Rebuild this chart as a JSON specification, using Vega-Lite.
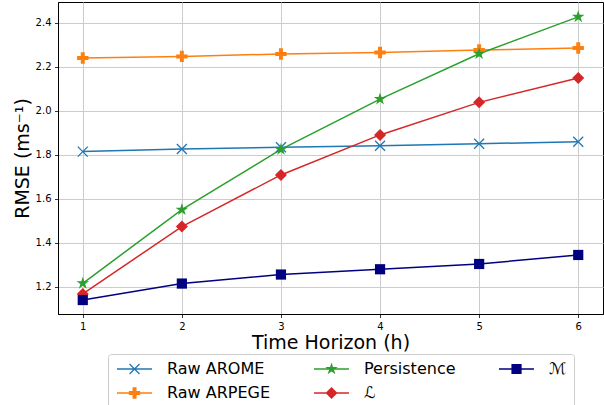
{
  "$schema": "https://vega.github.io/schema/vega-lite/v6.json",
  "width": 545,
  "height": 312,
  "autosize": "none",
  "padding": {"left": 58, "top": 2, "right": 1, "bottom": 91},
  "background": "white",
  "config": {
    "font": "DejaVu Sans",
    "view": {"stroke": "black", "strokeWidth": 1},
    "axis": {
      "domainColor": "black", "domainWidth": 1,
      "tickColor": "black", "tickSize": 3.5, "tickWidth": 0.8,
      "labelFontSize": 10, "labelColor": "black", "labelFont": "DejaVu Sans",
      "titleColor": "black", "titleFontSize": 19, "titleFontWeight": "normal", "titleFont": "DejaVu Sans",
      "gridColor": "#cccccc", "gridWidth": 1, "labelPadding": 3.5
    }
  },
  "data": {"values": [
    {"h": 1, "series": "Raw AROME", "rmse": 1.814},
    {"h": 2, "series": "Raw AROME", "rmse": 1.826},
    {"h": 3, "series": "Raw AROME", "rmse": 1.834},
    {"h": 4, "series": "Raw AROME", "rmse": 1.841},
    {"h": 5, "series": "Raw AROME", "rmse": 1.850},
    {"h": 6, "series": "Raw AROME", "rmse": 1.859},
    {"h": 1, "series": "Raw ARPEGE", "rmse": 2.240},
    {"h": 2, "series": "Raw ARPEGE", "rmse": 2.247},
    {"h": 3, "series": "Raw ARPEGE", "rmse": 2.258},
    {"h": 4, "series": "Raw ARPEGE", "rmse": 2.265},
    {"h": 5, "series": "Raw ARPEGE", "rmse": 2.276},
    {"h": 6, "series": "Raw ARPEGE", "rmse": 2.285},
    {"h": 1, "series": "Persistence", "rmse": 1.215},
    {"h": 2, "series": "Persistence", "rmse": 1.550},
    {"h": 3, "series": "Persistence", "rmse": 1.824},
    {"h": 4, "series": "Persistence", "rmse": 2.053},
    {"h": 5, "series": "Persistence", "rmse": 2.259},
    {"h": 6, "series": "Persistence", "rmse": 2.427},
    {"h": 1, "series": "ℒ", "rmse": 1.167},
    {"h": 2, "series": "ℒ", "rmse": 1.473},
    {"h": 3, "series": "ℒ", "rmse": 1.708},
    {"h": 4, "series": "ℒ", "rmse": 1.890},
    {"h": 5, "series": "ℒ", "rmse": 2.038},
    {"h": 6, "series": "ℒ", "rmse": 2.149},
    {"h": 1, "series": "ℳ", "rmse": 1.139},
    {"h": 2, "series": "ℳ", "rmse": 1.214},
    {"h": 3, "series": "ℳ", "rmse": 1.255},
    {"h": 4, "series": "ℳ", "rmse": 1.279},
    {"h": 5, "series": "ℳ", "rmse": 1.303},
    {"h": 6, "series": "ℳ", "rmse": 1.344}
  ]},
  "encoding": {
    "x": {
      "field": "h", "type": "quantitative",
      "scale": {"domain": [0.75, 6.25], "nice": false, "zero": false},
      "axis": {"values": [1, 2, 3, 4, 5, 6], "format": "d", "title": "Time Horizon (h)", "titlePadding": 2, "grid": true}
    },
    "y": {
      "field": "rmse", "type": "quantitative",
      "scale": {"domain": [1.0755, 2.4945], "nice": false, "zero": false},
      "axis": {"values": [1.2, 1.4, 1.6, 1.8, 2.0, 2.2, 2.4], "format": ".1f", "title": "RMSE (ms⁻¹)", "titlePadding": 3, "grid": true}
    }
  },
  "layer": [
    {
      "mark": {"type": "line", "strokeWidth": 1.5},
      "encoding": {
        "color": {
          "field": "series", "type": "nominal",
          "scale": {"domain": ["Raw AROME", "Persistence", "ℳ", "Raw ARPEGE", "ℒ"], "range": ["#1f77b4", "#2ca02c", "#000080", "#ff7f0e", "#d62728"]},
          "legend": null
        }
      }
    },
    {
      "mark": {"type": "point", "filled": true, "opacity": 1, "size": 144},
      "encoding": {
        "color": {
          "field": "series", "type": "nominal",
          "scale": {"domain": ["Raw AROME", "Persistence", "ℳ", "Raw ARPEGE", "ℒ"], "range": ["#1f77b4", "#2ca02c", "#000080", "#ff7f0e", "#d62728"]},
          "legend": null
        },
        "shape": {
          "field": "series", "type": "nominal",
          "scale": {"domain": ["Raw AROME", "Persistence", "ℳ", "Raw ARPEGE", "ℒ"], "range": [
            "M-0.753,-0.907L0.907,0.753L0.753,0.907L-0.907,-0.753ZM-0.907,0.753L0.753,-0.907L0.907,-0.753L-0.753,0.907Z",
            "M0,-1.1L0.247,-0.34L1.046,-0.34L0.4,0.13L0.647,0.89L0,0.42L-0.647,0.89L-0.4,0.13L-1.046,-0.34L-0.247,-0.34Z",
            "M-0.85,-0.85H0.85V0.85H-0.85Z",
            "M-0.95,-0.33H-0.33V-0.95H0.33V-0.33H0.95V0.33H0.33V0.95H-0.33V0.33H-0.95Z",
            "M0,-1L1,0L0,1L-1,0Z"
          ]},
          "legend": null
        }
      }
    },
    {
      "mark": {"type": "point", "filled": true, "opacity": 0, "size": 144},
      "encoding": {
        "color": {
          "field": "series", "type": "nominal",
          "scale": {"domain": ["Raw AROME", "Persistence", "ℳ", "Raw ARPEGE", "ℒ"], "range": ["#1f77b4", "#2ca02c", "#000080", "#ff7f0e", "#d62728"]},
          "legend": {"orient": "none", "legendX": 50, "legendY": 352, "direction": "horizontal", "columns": 3, "title": null, "labelFontSize": 16, "labelFont": "DejaVu Sans", "labelColor": "black", "symbolSize": 144, "symbolOpacity": 1, "symbolStrokeWidth": 0, "labelOffset": 36, "columnPadding": 41, "rowPadding": 8, "padding": 7, "fillColor": "white", "strokeColor": "#cccccc", "cornerRadius": 3, "labelLimit": 300}
        },
        "shape": {
          "field": "series", "type": "nominal",
          "scale": {"domain": ["Raw AROME", "Persistence", "ℳ", "Raw ARPEGE", "ℒ"], "range": [
            "M-1,-0.125H4.83V0.125H-1ZM1.167,-0.907L2.827,0.753L2.673,0.907L1.013,-0.753ZM1.013,0.753L2.673,-0.907L2.827,-0.753L1.167,0.907Z",
            "M-1,-0.125H4.83V0.125H-1ZM1.92,-1.1L2.167,-0.34L2.966,-0.34L2.32,0.13L2.567,0.89L1.92,0.42L1.273,0.89L1.52,0.13L0.874,-0.34L1.673,-0.34Z",
            "M-1,-0.125H4.83V0.125H-1ZM1.07,-0.85H2.77V0.85H1.07Z",
            "M-1,-0.125H4.83V0.125H-1ZM0.97,-0.33H1.59V-0.95H2.25V-0.33H2.87V0.33H2.25V0.95H1.59V0.33H0.97Z",
            "M-1,-0.125H4.83V0.125H-1ZM1.92,-1L2.92,0L1.92,1L0.92,0Z"
          ]},
          "legend": {"orient": "none", "legendX": 50, "legendY": 352, "direction": "horizontal", "columns": 3, "title": null, "labelFontSize": 16, "labelFont": "DejaVu Sans", "labelColor": "black", "symbolSize": 144, "symbolOpacity": 1, "symbolStrokeWidth": 0, "labelOffset": 36, "columnPadding": 41, "rowPadding": 8, "padding": 7, "fillColor": "white", "strokeColor": "#cccccc", "cornerRadius": 3, "labelLimit": 300}
        }
      }
    }
  ],
  "resolve": {"scale": {"color": "independent", "shape": "independent"}}
}
